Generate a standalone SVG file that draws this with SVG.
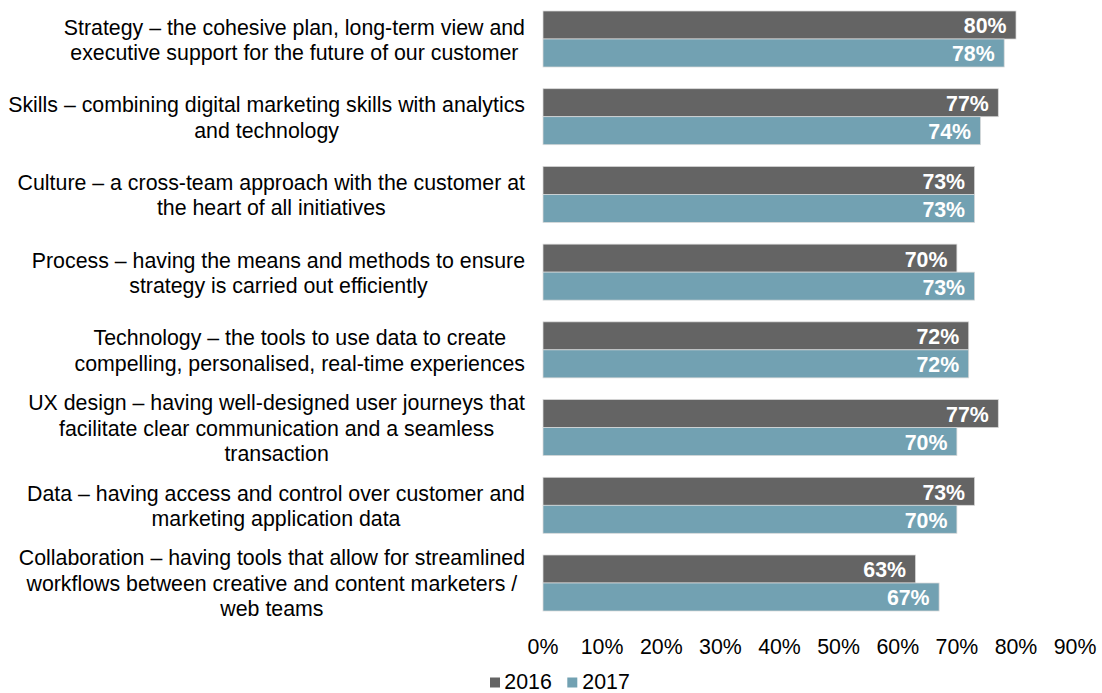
<svg xmlns="http://www.w3.org/2000/svg" width="1102" height="693" viewBox="0 0 1102 693">
<style>
text{font-family:"Liberation Sans",Arial,sans-serif;font-size:21.33px;fill:#000}
.cat{text-anchor:middle}
.val{text-anchor:end;font-weight:bold;fill:#fff}
.ax{text-anchor:middle}
.b16{fill:#646464;stroke:#d9d9d9;stroke-width:0.75}
.b17{fill:#72a1b2;stroke:#d9d9d9;stroke-width:0.75}
</style>
<rect width="1102" height="693" fill="#fff"/>
<g id="categories">
<g id="cat-strategy"><text class="cat" x="294.4" y="34.5">Strategy – the cohesive plan, long-term view and</text><text class="cat" x="294.4" y="60">executive support for the future of our customer</text></g>
<g id="cat-skills"><text class="cat" x="266.6" y="112.2">Skills – combining digital marketing skills with analytics</text><text class="cat" x="266.6" y="137.7">and technology</text></g>
<g id="cat-culture"><text class="cat" x="271.3" y="189.9">Culture – a cross-team approach with the customer at</text><text class="cat" x="271.3" y="215.4">the heart of all initiatives</text></g>
<g id="cat-process"><text class="cat" x="278.4" y="267.6">Process – having the means and methods to ensure</text><text class="cat" x="278.4" y="293.1">strategy is carried out efficiently</text></g>
<g id="cat-technology"><text class="cat" x="299.8" y="345.4">Technology – the tools to use data to create</text><text class="cat" x="299.8" y="370.9">compelling, personalised, real-time experiences</text></g>
<g id="cat-ux"><text class="cat" x="276.6" y="410">UX design – having well-designed user journeys that</text><text class="cat" x="276.6" y="435.5">facilitate clear communication and a seamless</text><text class="cat" x="276.6" y="461">transaction</text></g>
<g id="cat-data"><text class="cat" x="276" y="500.8">Data – having access and control over customer and</text><text class="cat" x="276" y="526.3">marketing application data</text></g>
<g id="cat-collab"><text class="cat" x="271.9" y="565.4">Collaboration – having tools that allow for streamlined</text><text class="cat" x="271.9" y="590.9">workflows between creative and content marketers /</text><text class="cat" x="271.9" y="616.4">web teams</text></g>
</g>
<g id="bars">
<g id="bars-strategy"><rect class="b16" x="543" y="11" width="473" height="28"/><rect class="b17" x="543" y="39" width="461.2" height="28"/><text class="val" x="1006.5" y="33.4">80%</text><text class="val" x="994.7" y="61.4">78%</text></g>
<g id="bars-skills"><rect class="b16" x="543" y="88.71" width="455.3" height="28"/><rect class="b17" x="543" y="116.71" width="437.5" height="28"/><text class="val" x="988.8" y="111.1">77%</text><text class="val" x="971" y="139.1">74%</text></g>
<g id="bars-culture"><rect class="b16" x="543" y="166.43" width="431.6" height="28"/><rect class="b17" x="543" y="194.43" width="431.6" height="28"/><text class="val" x="965.1" y="188.8">73%</text><text class="val" x="965.1" y="216.8">73%</text></g>
<g id="bars-process"><rect class="b16" x="543" y="244.14" width="413.9" height="28"/><rect class="b17" x="543" y="272.14" width="431.6" height="28"/><text class="val" x="947.4" y="266.5">70%</text><text class="val" x="965.1" y="294.5">73%</text></g>
<g id="bars-technology"><rect class="b16" x="543" y="321.86" width="425.7" height="28"/><rect class="b17" x="543" y="349.86" width="425.7" height="28"/><text class="val" x="959.2" y="344.3">72%</text><text class="val" x="959.2" y="372.3">72%</text></g>
<g id="bars-ux"><rect class="b16" x="543" y="399.57" width="455.3" height="28"/><rect class="b17" x="543" y="427.57" width="413.9" height="28"/><text class="val" x="988.8" y="422">77%</text><text class="val" x="947.4" y="450">70%</text></g>
<g id="bars-data"><rect class="b16" x="543" y="477.29" width="431.6" height="28"/><rect class="b17" x="543" y="505.29" width="413.9" height="28"/><text class="val" x="965.1" y="499.7">73%</text><text class="val" x="947.4" y="527.7">70%</text></g>
<g id="bars-collab"><rect class="b16" x="543" y="555" width="372.5" height="28"/><rect class="b17" x="543" y="583" width="396.1" height="28"/><text class="val" x="906" y="577.4">63%</text><text class="val" x="929.6" y="605.4">67%</text></g>
</g>
<g id="axis">
<text class="ax" x="543" y="654">0%</text>
<text class="ax" x="602.1" y="654">10%</text>
<text class="ax" x="661.3" y="654">20%</text>
<text class="ax" x="720.4" y="654">30%</text>
<text class="ax" x="779.5" y="654">40%</text>
<text class="ax" x="838.6" y="654">50%</text>
<text class="ax" x="897.8" y="654">60%</text>
<text class="ax" x="956.9" y="654">70%</text>
<text class="ax" x="1016" y="654">80%</text>
<text class="ax" x="1075.1" y="654">90%</text>
</g>
<g id="legend">
<rect x="490" y="677.5" width="10" height="10" fill="#646464"/>
<text x="504.3" y="688.5">2016</text>
<rect x="567.3" y="677.5" width="10" height="10" fill="#72a1b2"/>
<text x="582.3" y="688.5">2017</text>
</g>
</svg>
